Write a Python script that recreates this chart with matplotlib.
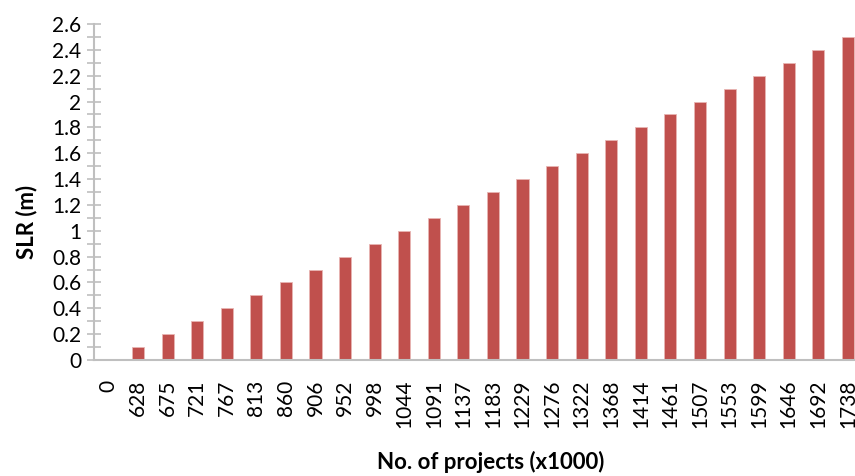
import matplotlib
matplotlib.use("Agg")
import matplotlib.pyplot as plt
from matplotlib.ticker import MultipleLocator

categories = ["0", "628", "675", "721", "767", "813", "860", "906", "952", "998",
              "1044", "1091", "1137", "1183", "1229", "1276", "1322", "1368", "1414",
              "1461", "1507", "1553", "1599", "1646", "1692", "1738"]
slr = [0, 0.1, 0.2, 0.3, 0.4, 0.5, 0.6, 0.7, 0.8, 0.9, 1.0, 1.1, 1.2, 1.3, 1.4,
       1.5, 1.6, 1.7, 1.8, 1.9, 2.0, 2.1, 2.2, 2.3, 2.4, 2.5]
ytick_labels = ["0", "0.2", "0.4", "0.6", "0.8", "1", "1.2", "1.4", "1.6", "1.8",
                "2", "2.2", "2.4", "2.6"]

plt.rcParams['font.family'] = ['Lato', 'DejaVu Sans']

fig = plt.figure(figsize=(8.55, 4.76), dpi=100)
ax = fig.add_axes([0.1095, 0.2437, 0.8995, 0.7059])

x = range(len(categories))
ax.bar(x, slr, width=0.41, color="#C0504D", edgecolor="#E8B5B3", linewidth=0.6)

ax.set_xlim(-0.5, len(categories) - 0.5)
ax.set_ylim(0, 2.6)
ax.set_yticks([0.2 * i for i in range(len(ytick_labels))])
ax.set_yticklabels(ytick_labels)
ax.yaxis.set_minor_locator(MultipleLocator(0.1))
ax.set_xticks(list(x))
ax.set_xticklabels(categories, rotation=90)

for s in ["top", "right"]:
    ax.spines[s].set_visible(False)
for s in ["left", "bottom"]:
    ax.spines[s].set_color("#BFBFBF")
    ax.spines[s].set_linewidth(1.5)

ax.tick_params(axis="y", which="major", direction="inout", length=10, width=1.2,
               color="#BFBFBF", labelsize=15, pad=4)
ax.tick_params(axis="y", which="minor", direction="inout", length=10, width=1.2,
               color="#BFBFBF")
ax.tick_params(axis="x", length=0, labelsize=15, pad=14)

fig.text(27 / 855, 1 - 222 / 476, "SLR (m)", fontsize=16, fontweight="bold",
         rotation=90, ha="center", va="center")
fig.text(491 / 855, 1 - 462 / 476, "No. of projects (x1000)", fontsize=16,
         fontweight="bold", ha="center", va="center")

fig.savefig("out.png", dpi=100)
